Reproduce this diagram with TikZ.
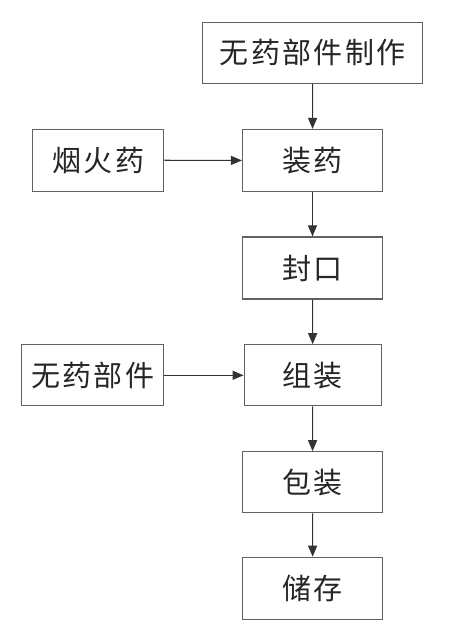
\documentclass[tikz,border=0pt]{standalone}
\usepackage{fontspec}
\newfontfamily\cjk[LetterSpace=8]{Noto Sans CJK SC}
\usetikzlibrary{arrows.meta}
\begin{document}
\begin{tikzpicture}[x=1pt,y=-1pt,
  box/.style={draw=black!62,line width=1.2pt,fill=white,inner sep=0pt,
    minimum width=140pt,minimum height=62pt,font=\cjk\fontsize{29}{29}\selectfont,text=black!85},
  conn/.style={draw=black!80,line width=1.1pt,-{Triangle[length=11pt,width=9pt]}}]
\useasboundingbox (0,0) rectangle (449,639);
\fill[white] (0,0) rectangle (449,639);
\node[box,minimum width=220pt,minimum height=61pt] (make) at (312.7,52.8) {无药部件制作};
\node[box] (zy) at (312.5,160.5) {装药};
\node[box,minimum width=131pt] (yhy) at (98.3,160.2) {烟火药};
\node[box] (fk) at (312.5,268) {封口};
\node[box,minimum width=142pt,minimum height=61pt] (wybj) at (92.8,375.3) {无药部件};
\node[box,minimum width=137pt,minimum height=61pt] (zz) at (312.7,375.3) {组装};
\node[box,minimum height=61pt] (bz) at (312.5,482.3) {包装};
\node[box] (cc) at (312.7,588.3) {储存};
\draw[conn] (make) -- (zy);
\draw[conn] (yhy) -- (zy);
\draw[conn] (zy) -- (fk);
\draw[conn] (fk) -- (zz);
\draw[conn] (wybj) -- (zz);
\draw[conn] (zz) -- (bz);
\draw[conn] (bz) -- (cc);
\end{tikzpicture}
\end{document}
